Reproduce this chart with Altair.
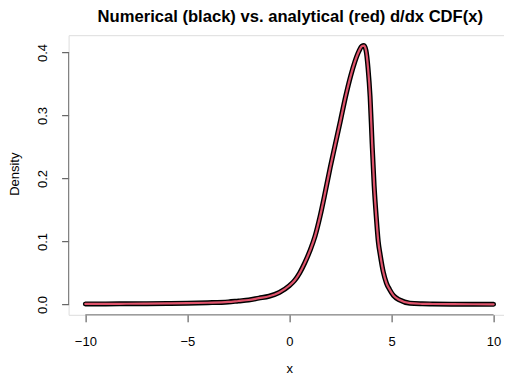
import altair as alt
import pandas as pd

# values
x_vals = [-10, -9, -8, -7, -6, -5, -4, -3, -2.5, -2, -1.5, -1, -0.5, 0, 0.25, 0.5,
          0.75, 1.0, 1.25, 1.5, 1.75, 2.0, 2.25, 2.5, 2.75, 3.0, 3.2, 3.4, 3.55, 3.65,
          3.75, 3.85, 3.95, 4.05, 4.15, 4.25, 4.35, 4.45, 4.6, 4.75, 4.9, 5.1, 5.4,
          5.9, 6.5, 7, 8, 9, 10]
density = [0.0008, 0.0009, 0.0011, 0.0013, 0.0016, 0.002, 0.0027, 0.004, 0.0055, 0.007,
           0.010, 0.013, 0.019, 0.030, 0.038, 0.050, 0.066, 0.085, 0.108, 0.140, 0.178,
           0.218, 0.255, 0.292, 0.330, 0.363, 0.385, 0.402, 0.410, 0.411, 0.403, 0.375,
           0.330, 0.255, 0.188, 0.140, 0.100, 0.078, 0.051, 0.034, 0.024, 0.014, 0.007,
           0.002, 0.001, 0.0007, 0.0004, 0.0003, 0.0002]

x_ticks = [-10, -5, 0, 5, 10]
y_ticks = [0.0, 0.1, 0.2, 0.3, 0.4]
x_domain = [-10.82, 10.51]
y_domain = [-0.01644, 0.42744]

df = pd.DataFrame({"x": x_vals, "d": density})
xaxis_df = pd.DataFrame({"x1": [x_ticks[0]], "x2": [x_ticks[-1]], "y": [y_domain[0]]})
yaxis_df = pd.DataFrame({"y1": [y_ticks[0]], "y2": [y_ticks[-1]], "x": [x_domain[0]]})

FONT = "Liberation Sans"
W, H = 435.4, 279.6

xscale = alt.Scale(domain=x_domain, nice=False, zero=False)
yscale = alt.Scale(domain=y_domain, nice=False, zero=False)

xaxis = alt.Axis(values=x_ticks, domain=False, grid=False, tickSize=7, tickColor="#444",
                 labelFont=FONT, labelFontSize=13, labelColor="#000",
                 labelBaseline="alphabetic", labelPadding=23.7, labelFlush=False,
                 title="x", titleFont=FONT, titleFontSize=13, titleFontWeight="normal",
                 titleColor="#000", titleBaseline="alphabetic", titleY=57.7,
                 titleX=W / 2 + 3)
yaxis = alt.Axis(values=y_ticks, domain=False, grid=False, tickSize=7, tickColor="#444",
                 labelFont=FONT, labelFontSize=13, labelColor="#000", labelAngle=-90,
                 labelAlign="center", labelBaseline="alphabetic", labelPadding=14.8,
                 labelFlush=False, format=".1f",
                 title="Density", titleFont=FONT, titleFontSize=13, titleFontWeight="normal",
                 titleColor="#000", titleAngle=-90, titleAlign="center",
                 titleBaseline="alphabetic", titleX=-50.6, titleY=138.5)

black = alt.Chart(df).mark_line(color="black", strokeWidth=5, strokeCap="round",
                                interpolate="monotone").encode(
    x=alt.X("x:Q", scale=xscale, axis=xaxis),
    y=alt.Y("d:Q", scale=yscale, axis=yaxis),
)
red = alt.Chart(df).mark_line(color="#DF536B", strokeWidth=2.2, strokeCap="round",
                              interpolate="monotone").encode(
    x=alt.X("x:Q", scale=xscale),
    y=alt.Y("d:Q", scale=yscale),
)
xline = alt.Chart(xaxis_df).mark_rule(color="#777", strokeWidth=1).encode(
    x=alt.X("x1:Q", scale=xscale), x2="x2:Q", y=alt.Y("y:Q", scale=yscale))
yline = alt.Chart(yaxis_df).mark_rule(color="#777", strokeWidth=1).encode(
    y=alt.Y("y1:Q", scale=yscale), y2="y2:Q", x=alt.X("x:Q", scale=xscale))

chart = alt.layer(xline, yline, black, red).properties(
    width=W, height=H,
    title=alt.TitleParams("Numerical (black) vs. analytical (red) d/dx CDF(x)",
                          font=FONT, fontSize=16.6, fontWeight="bold", color="#000",
                          baseline="alphabetic", offset=12, dy=15, frame="group",
                          anchor="middle", dx=4),
    autosize=alt.AutoSizeParams(type="none"),
    padding={"left": 60.6, "top": 27.2, "right": 0, "bottom": 61.2},
).configure_view(stroke=None).configure(background="white")

chart.save("out.html", embed_options={"renderer": "svg", "actions": False})
